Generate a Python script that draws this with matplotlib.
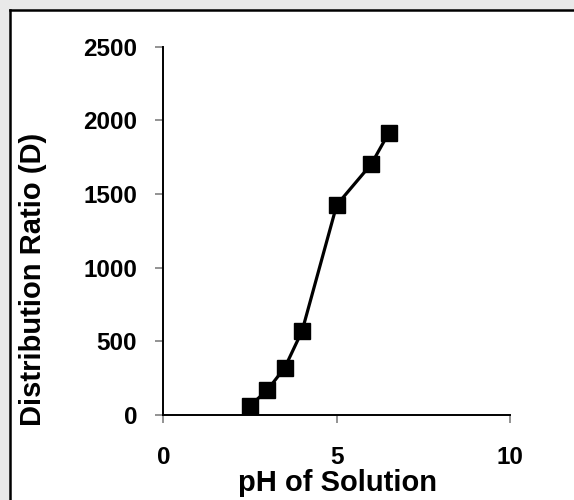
import matplotlib.pyplot as plt
from matplotlib.patches import Rectangle
from matplotlib.lines import Line2D

plt.rcParams["font.family"] = ["Liberation Sans", "DejaVu Sans"]
plt.rcParams["font.weight"] = "bold"

# pH vs distribution ratio
ph = [2.5, 3.0, 3.5, 4.0, 5.0, 6.0, 6.5]
dist_ratio = [63, 170, 321, 570, 1425, 1703, 1913]

x_ticks = [0, 5, 10]
y_ticks = [0, 500, 1000, 1500, 2000, 2500]

fig = plt.figure(figsize=(5.74, 5.0), dpi=100)
fig.patch.set_facecolor("#e9e9e9")

# white page with black left/top frame
fig.patches.append(Rectangle((10 / 574, 0), 1, 490 / 500, transform=fig.transFigure,
                             facecolor="white", edgecolor="none", zorder=-5))
fig.lines.append(Line2D([10 / 574, 10 / 574], [0, 490 / 500], transform=fig.transFigure,
                        color="black", lw=1.8, zorder=-4))
fig.lines.append(Line2D([10 / 574, 1], [490 / 500, 490 / 500], transform=fig.transFigure,
                        color="black", lw=1.8, zorder=-4))

ax = fig.add_axes([0.2848, 0.17, 0.6037, 0.737])
ax.set_facecolor("none")
ax.set_zorder(2)
ax.plot(ph, dist_ratio, color="black", lw=2.3, marker="s", ms=11.5,
        markerfacecolor="black", markeredgecolor="black", clip_on=False)

ax.set_xlim(0, 10)
ax.set_ylim(0, 2500)
ax.set_xticks(x_ticks)
ax.set_yticks(y_ticks)

for side in ("top", "right"):
    ax.spines[side].set_visible(False)
for side in ("left", "bottom"):
    ax.spines[side].set_linewidth(1.4)

ax.tick_params(axis="x", direction="out", length=6, width=1.2, color="#808080",
               labelsize=17.5, pad=16)
ax.tick_params(axis="y", direction="out", length=6, width=1.2, color="#808080",
               labelsize=17.5, pad=13)
for lab in ax.get_xticklabels() + ax.get_yticklabels():
    lab.set_fontweight("bold")

ax.set_xlabel("pH of Solution", fontsize=21, fontweight="bold")
ax.set_ylabel("Distribution Ratio (D)", fontsize=21, fontweight="bold")
ax.xaxis.set_label_coords(0.502, -0.146)
ax.yaxis.set_label_coords(-0.336, 0.369)

fig.savefig("out.png", dpi=100, facecolor=fig.get_facecolor())
